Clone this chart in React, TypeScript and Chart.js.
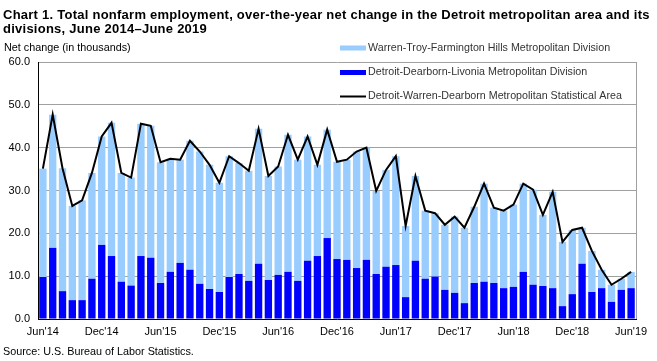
import React, { useEffect, useRef } from "react";
import { Chart, registerables } from "chart.js";

Chart.register(...registerables);

const months: string[] = [
  "Jun'14", "Jul'14", "Aug'14", "Sep'14", "Oct'14", "Nov'14", "Dec'14",
  "Jan'15", "Feb'15", "Mar'15", "Apr'15", "May'15", "Jun'15", "Jul'15", "Aug'15", "Sep'15", "Oct'15", "Nov'15", "Dec'15",
  "Jan'16", "Feb'16", "Mar'16", "Apr'16", "May'16", "Jun'16", "Jul'16", "Aug'16", "Sep'16", "Oct'16", "Nov'16", "Dec'16",
  "Jan'17", "Feb'17", "Mar'17", "Apr'17", "May'17", "Jun'17", "Jul'17", "Aug'17", "Sep'17", "Oct'17", "Nov'17", "Dec'17",
  "Jan'18", "Feb'18", "Mar'18", "Apr'18", "May'18", "Jun'18", "Jul'18", "Aug'18", "Sep'18", "Oct'18", "Nov'18", "Dec'18",
  "Jan'19", "Feb'19", "Mar'19", "Apr'19", "May'19", "Jun'19",
];

// Detroit-Dearborn-Livonia Metropolitan Division (thousands)
const detroitDearborn: number[] = [
  9.8, 16.6, 6.5, 4.4, 4.4, 9.4, 17.3,
  14.7, 8.7, 7.8, 14.7, 14.3, 8.4, 11.0, 13.1, 11.5, 8.2, 7.0, 6.3,
  9.8, 10.5, 8.9, 12.9, 9.1, 10.3, 11.0, 8.9, 13.6, 14.7, 18.9, 14.0,
  13.8, 11.9, 13.8, 10.5, 12.2, 12.6, 5.1, 13.6, 9.4, 9.9, 6.8, 6.1,
  3.7, 8.4, 8.7, 8.4, 7.2, 7.5, 11.0, 8.0, 7.7, 7.2, 3.0, 5.8,
  12.9, 6.3, 7.2, 4.0, 6.8, 7.2,
];

// Warren-Troy-Farmington Hills Metropolitan Division (thousands)
const warrenTroy: number[] = [
  25.3, 31.1, 28.7, 22.0, 23.3, 24.7, 25.3,
  31.1, 25.4, 25.2, 30.9, 30.8, 28.2, 26.4, 24.1, 30.1, 30.9, 29.0, 25.5,
  28.2, 25.9, 25.7, 31.5, 24.3, 25.3, 32.0, 28.3, 29.0, 21.3, 25.3, 22.7,
  23.4, 27.2, 26.2, 19.4, 22.6, 25.4, 16.6, 19.8, 15.9, 14.8, 15.2, 17.8,
  17.6, 17.8, 22.9, 17.6, 18.1, 19.2, 20.6, 22.2, 16.6, 22.5, 15.0, 15.0,
  8.4, 9.6, 4.3, 4.0, 2.6, 3.8,
];

// Detroit-Warren-Dearborn Metropolitan Statistical Area (thousands)
const msaTotal: number[] = [
  35.1, 47.7, 35.2, 26.4, 27.7, 34.1, 42.6,
  45.8, 34.1, 33.0, 45.6, 45.1, 36.6, 37.4, 37.2, 41.6, 39.1, 36.0, 31.8,
  38.0, 36.4, 34.6, 44.4, 33.4, 35.6, 43.0, 37.2, 42.6, 36.0, 44.2, 36.7,
  37.2, 39.1, 40.0, 29.9, 34.8, 38.0, 21.7, 33.4, 25.3, 24.7, 22.0, 23.9,
  21.3, 26.2, 31.6, 26.0, 25.3, 26.7, 31.6, 30.2, 24.3, 29.7, 18.0, 20.8,
  21.3, 15.9, 11.5, 8.0, 9.4, 11.0,
];

const yTicks: number[] = [0, 10, 20, 30, 40, 50, 60];

const titleLines: string[] = [
  "Chart 1. Total nonfarm employment, over-the-year net change in the Detroit metropolitan area and its",
  "divisions, June 2014\u2013June 2019",
];
const yAxisLabel = "Net change (in thousands)";
const sourceText = "Source: U.S. Bureau of Labor Statistics.";
const legendLabels: string[] = [
  "Warren-Troy-Farmington Hills Metropolitan Division",
  "Detroit-Dearborn-Livonia Metropolitan Division",
  "Detroit-Warren-Dearborn Metropolitan Statistical Area",
];

const LIGHT = "#99ccff";
const DARK = "#0000ff";
const FONT = "'Liberation Sans', Arial, sans-serif";

const decorPlugin = {
  id: "decor",
  beforeDatasetsDraw(chart: any) {
    const { ctx, chartArea } = chart;
    ctx.save();
    ctx.strokeStyle = "#a0a0a0";
    ctx.lineWidth = 1;
    ctx.beginPath();
    ctx.moveTo(Math.round(chartArea.right) + 0.5, chartArea.top);
    ctx.lineTo(Math.round(chartArea.right) + 0.5, chartArea.bottom);
    ctx.stroke();
    ctx.restore();
  },
  afterDraw(chart: any) {
    const { ctx } = chart;
    ctx.save();
    // Title
    ctx.fillStyle = "#000";
    ctx.textAlign = "left";
    ctx.textBaseline = "alphabetic";
    ctx.font = `bold 13px ${FONT}`;
    try { (ctx as any).letterSpacing = "0.25px"; } catch (e) { /* ignore */ }
    ctx.fillText(titleLines[0], 3, 19);
    ctx.fillText(titleLines[1], 3, 32.5);
    try { (ctx as any).letterSpacing = "0px"; } catch (e) { /* ignore */ }
    // Axis label
    ctx.font = `10.8px ${FONT}`;
    ctx.fillText(yAxisLabel, 4, 51);
    // Source
    ctx.fillText(sourceText, 3, 355);
    // Legend
    const sx = 340;
    const sw = 26;
    const tx = 368;
    const ys = [48, 72.5, 96.5];
    ctx.fillStyle = LIGHT;
    ctx.fillRect(sx, ys[0] - 2.5, sw, 5);
    ctx.fillStyle = DARK;
    ctx.fillRect(sx, ys[1] - 2.5, sw, 5);
    ctx.strokeStyle = "#000";
    ctx.lineWidth = 2;
    ctx.beginPath();
    ctx.moveTo(sx, ys[2]);
    ctx.lineTo(sx + sw, ys[2]);
    ctx.stroke();
    ctx.fillStyle = "#333";
    ctx.font = `10.7px ${FONT}`;
    ctx.textBaseline = "middle";
    legendLabels.forEach((t, i) => ctx.fillText(t, tx, ys[i]));
    ctx.restore();
  },
};

export default function App() {
  const ref = useRef<HTMLCanvasElement | null>(null);
  useEffect(() => {
    if (!ref.current) return;
    const chart = new Chart(ref.current, {
      type: "bar",
      data: {
        labels: months,
        datasets: [
          {
            type: "bar",
            label: legendLabels[1],
            data: detroitDearborn,
            backgroundColor: DARK,
            stack: "divisions",
            order: 1,
            categoryPercentage: 1,
            barPercentage: 0.75,
          },
          {
            type: "bar",
            label: legendLabels[0],
            data: warrenTroy,
            backgroundColor: LIGHT,
            stack: "divisions",
            order: 1,
            categoryPercentage: 1,
            barPercentage: 0.75,
          },
          {
            type: "line",
            label: legendLabels[2],
            data: msaTotal,
            borderColor: "#000",
            borderWidth: 2,
            pointRadius: 0,
            tension: 0,
            fill: false,
            stack: "msa",
            order: 0,
          } as any,
        ],
      },
      options: {
        animation: false,
        responsive: false,
        maintainAspectRatio: false,
        layout: { padding: { left: 0, right: 21, top: 62, bottom: 22 } },
        plugins: {
          legend: { display: false },
          title: { display: false },
          tooltip: { enabled: false },
        },
        scales: {
          x: {
            stacked: true,
            afterFit: (s: any) => { s.height = 20; },
            grid: { display: false, drawTicks: false },
            border: { color: "#000", width: 1 },
            ticks: {
              autoSkip: false,
              maxRotation: 0,
              minRotation: 0,
              padding: 6,
              color: "#000",
              font: { family: FONT, size: 11 },
              callback: (_v: any, i: number) => (i % 6 === 0 ? months[i] : null),
            },
          },
          y: {
            stacked: true,
            min: yTicks[0],
            max: yTicks[yTicks.length - 1],
            afterFit: (s: any) => { s.width = 38; },
            afterBuildTicks: (s: any) => { s.ticks = yTicks.map((v) => ({ value: v })); },
            grid: { color: "#a0a0a0", lineWidth: 1, drawTicks: false },
            border: { color: "#000", width: 1 },
            ticks: {
              padding: 8,
              color: "#000",
              font: { family: FONT, size: 11 },
              callback: (v: any) => Number(v).toFixed(1),
            },
          },
        },
      },
      plugins: [decorPlugin],
    });
    return () => chart.destroy();
  }, []);
  return (
    <div style={{ position: "fixed", left: 0, top: 0, width: 657, height: 361, background: "#fff" }}>
      <canvas ref={ref} width={657} height={361} style={{ display: "block" }} />
    </div>
  );
}
